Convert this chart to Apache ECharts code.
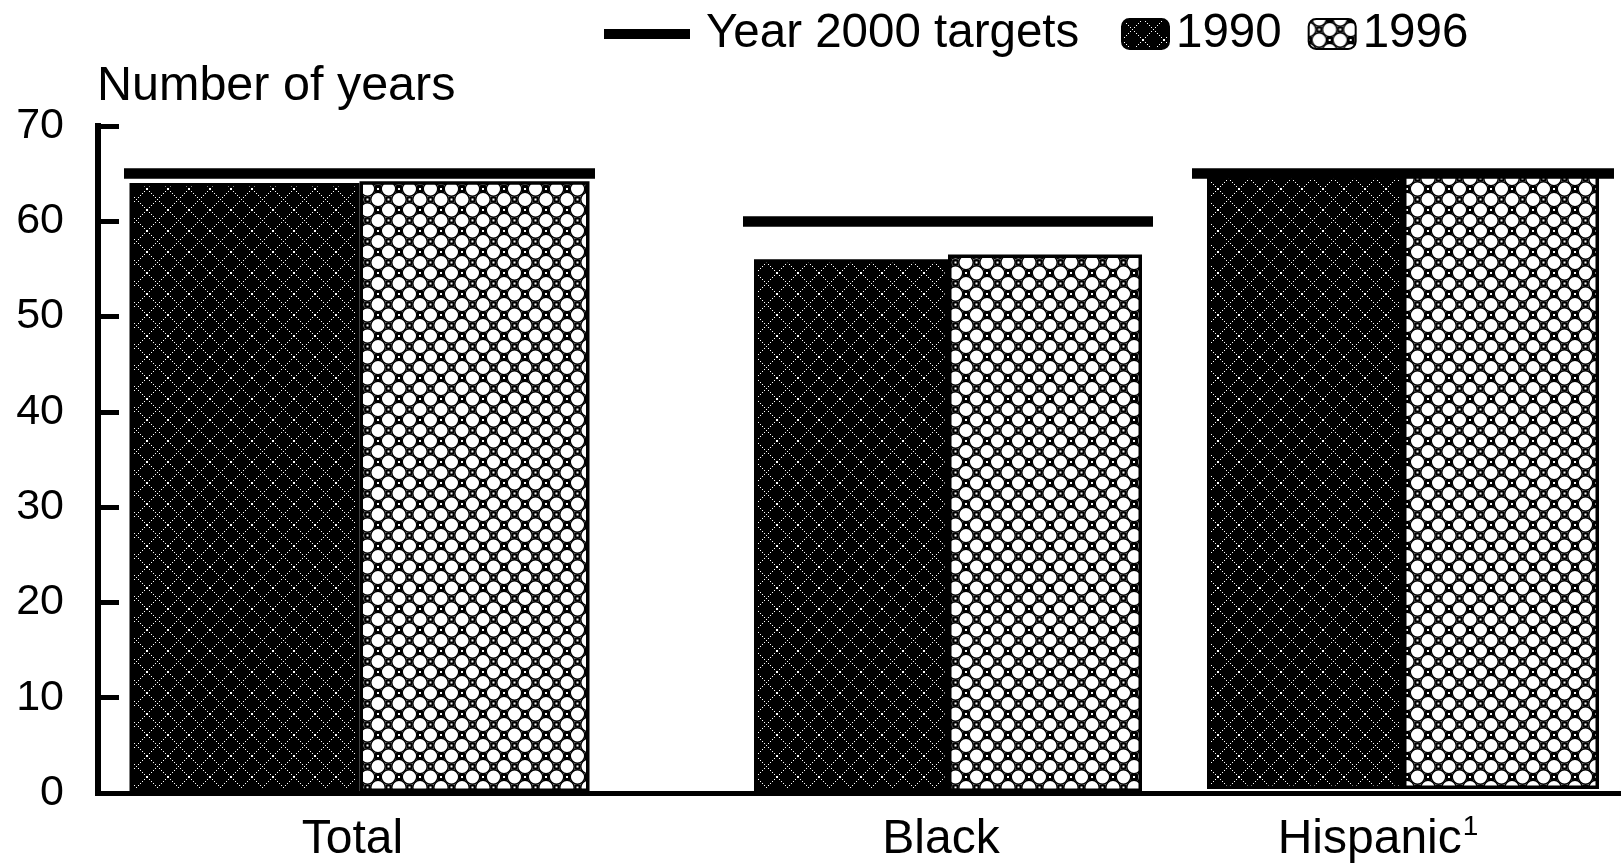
<!DOCTYPE html>
<html>
<head>
<meta charset="utf-8">
<script src="https://cdn.jsdelivr.net/npm/echarts@6/dist/echarts.min.js"></script>
<style>
html,body{margin:0;padding:0;background:#fff;}
#chart{width:1621px;height:864px;}
</style>
</head>
<body>
<div id="chart"></div>
<script>
// ---- data ----
const categories = ['Total', 'Black', 'Hispanic'];
const values1990 = [64.0, 56.0, 64.8];
const values1996 = [64.2, 56.5, 64.9];
const targets = [65, 60, 65];
const yMin = 0, yMax = 70, yInterval = 10;
const seriesNames = ['Year 2000 targets', '1990', '1996'];

// ---- patterns ----
function pattern1990() {
  const c = document.createElement('canvas');
  c.width = 21; c.height = 21;
  const g = c.getContext('2d');
  g.fillStyle = '#000'; g.fillRect(0, 0, 21, 21);
  g.fillStyle = '#fff';
  for (let i = 0; i < 21; i += 2) {
    g.fillRect(i, i, 1, 1);
    g.fillRect(i, 20 - i, 1, 1);
  }
  return c;
}
function pattern1996() {
  const c = document.createElement('canvas');
  c.width = 21; c.height = 21;
  const g = c.getContext('2d');
  g.fillStyle = '#fff'; g.fillRect(0, 0, 21, 21);
  g.strokeStyle = '#000'; g.lineWidth = 1.4;
  const h = 10.5;
  const rings = [[h, 0], [0, h], [21, h], [h, 21]];
  rings.forEach(([x, y]) => {
    g.beginPath(); g.arc(x, y, 7.2, 0, Math.PI * 2); g.stroke();
  });
  const sq = [[0, 0], [21, 0], [0, 21], [21, 21], [h, h]];
  g.fillStyle = '#000';
  sq.forEach(([x, y]) => { g.fillRect(x - 3, y - 3, 6, 6); });
  g.fillStyle = '#fff';
  sq.forEach(([x, y]) => { g.fillRect(x - 1, y - 1, 2, 2); });
  return c;
}
const fill1990 = { image: pattern1990(), repeat: 'repeat' };
const fill1996 = { image: pattern1996(), repeat: 'repeat' };

const FONT = 'Liberation Sans';
const chart = echarts.init(document.getElementById('chart'), null, { renderer: 'canvas' });

// group layout (grid extents = target line extent)
const groups = [
  { left: 124, width: 471, bar: 230 },
  { left: 743, width: 410, bar: 194 },
  { left: 1192, width: 422, bar: 196 }
];
const TOP = 126, BOTTOM = 71;

const grid = [{ left: 98, right: 0, top: TOP, bottom: BOTTOM }];
const xAxis = [{
  gridIndex: 0, type: 'value', min: 0, max: 1,
  axisLine: { show: true, lineStyle: { color: '#000', width: 5 } },
  axisTick: { show: false }, axisLabel: { show: false }, splitLine: { show: false }
}];
const yAxis = [{
  gridIndex: 0, type: 'value', min: yMin, max: yMax, interval: yInterval,
  axisLine: { show: true, lineStyle: { color: '#000', width: 6, cap: 'square' } },
  axisTick: { show: true, inside: true, length: 21, lineStyle: { color: '#000', width: 5 } },
  axisLabel: { fontFamily: FONT, fontSize: 43, color: '#000', margin: 34 },
  splitLine: { show: false }
}];
const series = [];
groups.forEach((gr, i) => {
  const gi = i + 1;
  grid.push({ left: gr.left, width: gr.width, top: TOP, bottom: BOTTOM });
  xAxis.push({
    gridIndex: gi, type: 'category', data: [categories[i]],
    axisLine: { show: false }, axisTick: { show: false }, splitLine: { show: false },
    axisLabel: {
      fontFamily: FONT, fontSize: 48, color: '#000', margin: 24,
      padding: categories[i] === 'Hispanic' ? [0, 50, 0, 0] : [0, 14, 0, 0],
      formatter: v => v === 'Hispanic' ? '{a|Hispanic}{s|1}' : v,
      rich: {
        a: { fontFamily: FONT, fontSize: 48, color: '#000' },
        s: { fontFamily: FONT, fontSize: 28, color: '#000', verticalAlign: 'top', padding: [0, 0, 26, 1] }
      }
    }
  });
  yAxis.push({ gridIndex: gi, type: 'value', min: yMin, max: yMax, interval: yInterval, show: false });
  series.push({
    name: seriesNames[1], type: 'bar', xAxisIndex: gi, yAxisIndex: gi,
    data: [values1990[i]], barWidth: gr.bar, barGap: 0,
    itemStyle: { color: fill1990, borderColor: '#000', borderWidth: 3.5 }
  });
  series.push({
    name: seriesNames[2], type: 'bar', xAxisIndex: gi, yAxisIndex: gi,
    data: [values1996[i]], barWidth: gr.bar, barGap: 0,
    itemStyle: { color: fill1996, borderColor: '#000', borderWidth: 3.5 }
  });
  series.push({
    name: seriesNames[0], type: 'line', xAxisIndex: gi, yAxisIndex: gi,
    data: [targets[i]], showSymbol: false, symbol: 'none', z: 5,
    color: '#000', itemStyle: { color: '#000' }, lineStyle: { width: 0 },
    markLine: {
      silent: true, symbol: ['none', 'none'], label: { show: false },
      lineStyle: { color: '#000', width: 10.5, type: 'solid' },
      emphasis: { disabled: true },
      data: [{ yAxis: targets[i] }]
    }
  });
});

chart.setOption({
  animation: false,
  backgroundColor: '#fff',
  title: {
    text: 'Number of years', left: 92, top: 57,
    textStyle: { fontFamily: FONT, fontSize: 48.5, fontWeight: 'normal', color: '#000' }
  },
  legend: [
    {
      data: [{ name: seriesNames[0], icon: 'rect' }],
      left: 599, top: 5, itemWidth: 86, itemHeight: 10, itemGap: 0,
      selectedMode: false,
      textStyle: { fontFamily: FONT, fontSize: 47.5, color: '#000', padding: [0, 0, 0, 11] }
    },
    {
      data: [seriesNames[1], seriesNames[2]],
      left: 1116, top: 5, itemWidth: 47, itemHeight: 30, itemGap: 26,
      selectedMode: false,
      textStyle: { fontFamily: FONT, fontSize: 47.5, color: '#000', padding: [0, 0, 0, 2] }
    }
  ],
  grid, xAxis, yAxis, series
});
</script>
</body>
</html>
